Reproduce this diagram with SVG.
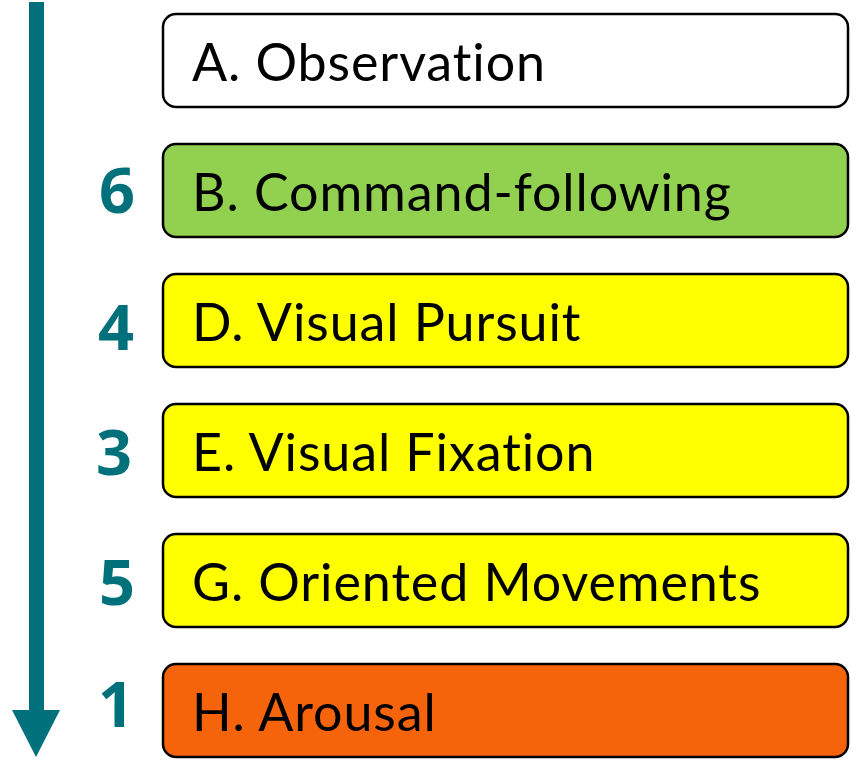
<svg xmlns="http://www.w3.org/2000/svg" width="858" height="764" viewBox="0 0 858 764">
  <style>
    .box { stroke: #000; stroke-width: 2.5; }
    .label { font-family: Lato, "Open Sans", sans-serif; font-size: 52px; letter-spacing: 0.9px; fill: #000; }
    .rank { font-family: "Open Sans", "DejaVu Sans", sans-serif; font-weight: bold; font-size: 63px; fill: #00707B; text-anchor: middle; }
  </style>
  <rect width="858" height="764" fill="#fff"/>

  <!-- downward ordering arrow -->
  <g id="connectors">
    <rect x="29" y="2" width="15" height="710" fill="#00707B"/>
    <polygon points="12,710 60,710 36,757" fill="#00707B"/>
  </g>

  <g id="node-a">
    <rect class="box" x="163" y="14" width="685" height="93" rx="13" fill="#fff"/>
    <text class="label" x="192" y="81">A. Observation</text>
  </g>
  <g id="node-b">
    <rect class="box" x="163" y="144" width="685" height="93" rx="13" fill="#92D050"/>
    <text class="rank" x="117" y="213">6</text>
    <text class="label" x="192" y="211">B. Command-following</text>
  </g>
  <g id="node-d">
    <rect class="box" x="163" y="274" width="685" height="93" rx="13" fill="#FFFF00"/>
    <text class="rank" x="116" y="350">4</text>
    <text class="label" x="192" y="341">D. Visual Pursuit</text>
  </g>
  <g id="node-e">
    <rect class="box" x="163" y="404" width="685" height="93" rx="13" fill="#FFFF00"/>
    <text class="rank" x="114" y="475">3</text>
    <text class="label" x="192" y="471">E. Visual Fixation</text>
  </g>
  <g id="node-g">
    <rect class="box" x="163" y="534" width="685" height="93" rx="13" fill="#FFFF00"/>
    <text class="rank" x="117" y="605">5</text>
    <text class="label" x="192" y="601">G. Oriented Movements</text>
  </g>
  <g id="node-h">
    <rect class="box" x="163" y="664" width="685" height="93" rx="13" fill="#F5640A"/>
    <text class="rank" x="116" y="727">1</text>
    <text class="label" x="192" y="731">H. Arousal</text>
  </g>
</svg>
